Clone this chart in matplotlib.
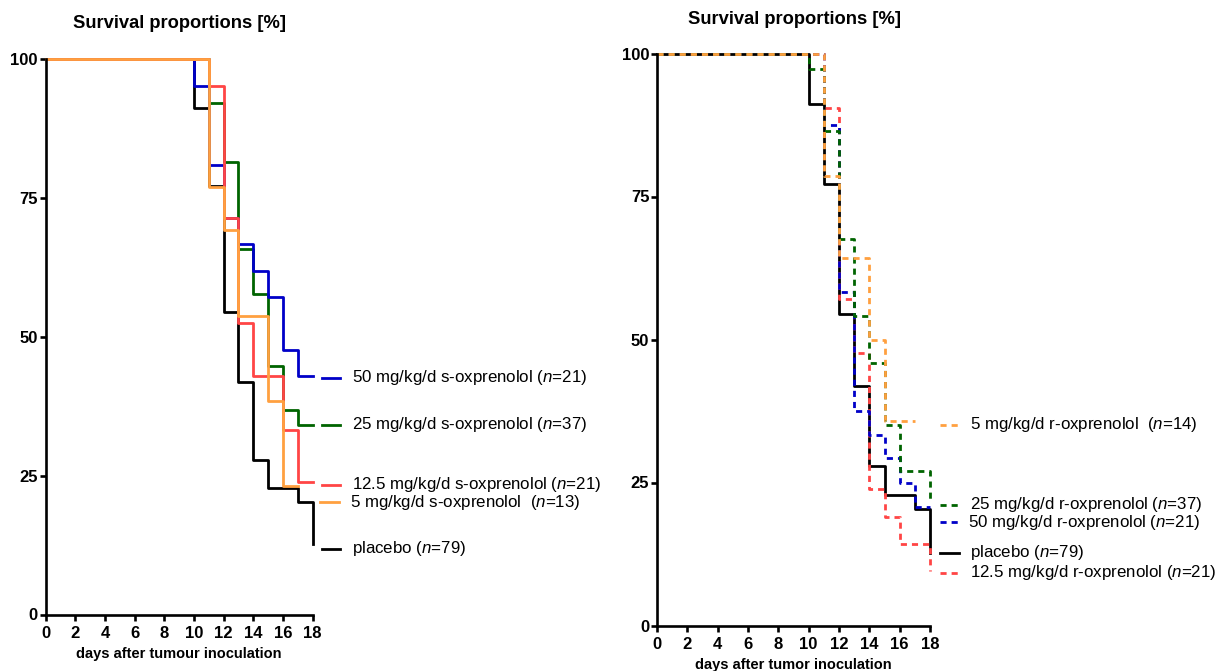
import matplotlib
matplotlib.use("Agg")
import matplotlib.pyplot as plt
from matplotlib.lines import Line2D

plt.rcParams['font.family'] = ['Liberation Sans', 'DejaVu Sans']
plt.rcParams['mathtext.fontset'] = 'custom'
plt.rcParams['mathtext.rm'] = 'Liberation Sans'
plt.rcParams['mathtext.it'] = 'Liberation Sans:italic'

# ---------------- data ----------------
x_ticks = [0, 2, 4, 6, 8, 10, 12, 14, 16, 18]
y_ticks = [0, 25, 50, 75, 100]

# left panel (s-oxprenolol)
placebo_days = [0, 10, 11, 12, 13, 14, 15, 17, 18]
placebo_surv = [100, 91.1, 77.2, 54.4, 41.8, 27.8, 22.8, 20.3, 12.7]
s50_days = [0, 10, 11, 12, 13, 14, 15, 16, 17, 18]
s50_surv = [100, 95.2, 81.0, 71.4, 66.7, 61.9, 57.1, 47.6, 42.9, 42.9]
s25_days = [0, 11, 12, 13, 14, 15, 16, 17, 18]
s25_surv = [100, 92.0, 81.5, 65.8, 57.7, 44.8, 36.9, 34.1, 34.1]
s12_days = [0, 11, 12, 13, 14, 16, 17, 18]
s12_surv = [100, 95.2, 71.4, 52.4, 42.9, 33.3, 23.8, 23.8]
s5_days = [0, 11, 12, 13, 15, 16, 17]
s5_surv = [100, 76.9, 69.2, 53.8, 38.5, 23.1, 23.1]

# right panel (r-oxprenolol)
r5_days = [0, 11, 12, 14, 15, 17]
r5_surv = [100, 78.6, 64.3, 50.0, 35.7, 35.7]
r25_days = [0, 10, 11, 12, 13, 14, 15, 16, 18]
r25_surv = [100, 97.3, 86.5, 67.6, 54.1, 45.9, 35.1, 27.0, 21.6]
r50_days = [0, 11, 12, 13, 14, 15, 16, 17, 18]
r50_surv = [100, 87.5, 58.3, 37.5, 33.3, 29.2, 25.0, 20.8, 20.8]
r12_days = [0, 11, 12, 13, 14, 15, 16, 18]
r12_surv = [100, 90.5, 57.1, 47.6, 23.8, 19.0, 14.3, 9.5]

left_labels = [
    "50 mg/kg/d s-oxprenolol ($\\mathit{n}$=21)",
    "25 mg/kg/d s-oxprenolol ($\\mathit{n}$=37)",
    "12.5 mg/kg/d s-oxprenolol ($\\mathit{n}$=21)",
    "5 mg/kg/d s-oxprenolol  ($\\mathit{n}$=13)",
    "placebo ($\\mathit{n}$=79)",
]
right_labels = [
    "5 mg/kg/d r-oxprenolol  ($\\mathit{n}$=14)",
    "25 mg/kg/d r-oxprenolol ($\\mathit{n}$=37)",
    "50 mg/kg/d r-oxprenolol ($\\mathit{n}$=21)",
    "placebo ($\\mathit{n}$=79)",
    "12.5 mg/kg/d r-oxprenolol ($\\mathit{n}$=21)",
]

C_BLUE = '#0000C8'
C_GREEN = '#006400'
C_RED = '#FF4545'
C_ORANGE = '#FFA040'
C_BLACK = '#000000'

W, H = 1221, 671
fig = plt.figure(figsize=(W / 100, H / 100), dpi=100)


def fx(x):
    return x / W


def fy(y):
    return 1 - y / H


def make_axes(x0, x1, y0, y1, xlabel):
    ax = fig.add_axes([fx(x0), fy(y1), fx(x1) - fx(x0), fy(y0) - fy(y1)])
    ax.set_xlim(0, 18)
    ax.set_ylim(0, 100)
    ax.set_xticks(x_ticks)
    ax.set_yticks(y_ticks)
    for s in ['top', 'right']:
        ax.spines[s].set_visible(False)
    for s in ['left', 'bottom']:
        ax.spines[s].set_linewidth(1.9)
    ax.tick_params(direction='out', length=4, width=1.9, labelsize=12)
    ax.tick_params(axis='y', pad=1.5)
    ax.tick_params(axis='x', pad=4.5)
    for lab in ax.get_xticklabels() + ax.get_yticklabels():
        lab.set_fontweight('bold')
    ax.set_xlabel(xlabel, fontsize=10.5, fontweight='bold', labelpad=4)
    for sp in ax.spines.values():
        sp.set_clip_on(False)
    return ax


LW = 2.0
DASH = (2.2, 1.8)
LEG_FS = 12.2
TITLE_FS = 13.2

# ---------------- left panel ----------------
axL = make_axes(45.5, 312.7, 59, 614.5, "days after tumour inoculation")
axL.step(placebo_days, placebo_surv, where='post', color=C_BLACK, lw=LW, clip_on=False)
axL.step(s25_days, s25_surv, where='post', color=C_GREEN, lw=LW, clip_on=False)
axL.step(s50_days, s50_surv, where='post', color=C_BLUE, lw=LW, clip_on=False)
axL.step(s12_days, s12_surv, where='post', color=C_RED, lw=LW, clip_on=False)
axL.step(s5_days, s5_surv, where='post', color=C_ORANGE, lw=LW, clip_on=False)
fig.text(fx(179.5), fy(23), "Survival proportions [%]", fontsize=TITLE_FS, fontweight='bold',
         ha='center', va='center')

left_colors = [C_BLUE, C_GREEN, C_RED, C_ORANGE, C_BLACK]
left_ys = [378, 425, 485, 502, 549]
left_mx = [(322, 340), (322, 340), (322, 340), (320, 339), (322, 340)]
left_tx = [351.5, 351.5, 352, 350, 352]
for lab, col, yy, (m0, m1), tx in zip(left_labels, left_colors, left_ys, left_mx, left_tx):
    fig.add_artist(Line2D([fx(m0), fx(m1)], [fy(yy), fy(yy)], color=col, lw=LW,
                          transform=fig.transFigure))
    fig.text(fx(tx), fy(yy), lab, fontsize=LEG_FS, ha='left', va='center')

# ---------------- right panel ----------------
axR = make_axes(657, 930, 53.5, 625.5, "days after tumor inoculation")
axR.step(placebo_days, placebo_surv, where='post', color=C_BLACK, lw=LW, clip_on=False)
axR.step(r12_days, r12_surv, where='post', color=C_RED, lw=LW, dashes=DASH, clip_on=False)
axR.step(r50_days, r50_surv, where='post', color=C_BLUE, lw=LW, dashes=DASH, clip_on=False)
axR.step(r25_days, r25_surv, where='post', color=C_GREEN, lw=LW, dashes=DASH, clip_on=False)
axR.step(r5_days, r5_surv, where='post', color=C_ORANGE, lw=LW, dashes=DASH, clip_on=False)
fig.text(fx(794), fy(20), "Survival proportions [%]", fontsize=TITLE_FS, fontweight='bold',
         ha='center', va='center')

right_colors = [C_ORANGE, C_GREEN, C_BLUE, C_BLACK, C_RED]
right_ys = [425, 505, 522, 553, 573]
right_tx = [970.5, 970, 968, 970, 970]
right_dashed = [True, True, True, False, True]
for lab, col, yy, tx, dsh in zip(right_labels, right_colors, right_ys, right_tx, right_dashed):
    ln = Line2D([fx(940), fx(959)], [fy(yy), fy(yy)], color=col, lw=LW,
                transform=fig.transFigure)
    if dsh:
        ln.set_dashes(DASH)
    fig.add_artist(ln)
    fig.text(fx(tx), fy(yy), lab, fontsize=LEG_FS, ha='left', va='center')

fig.savefig("out.png", dpi=100)
